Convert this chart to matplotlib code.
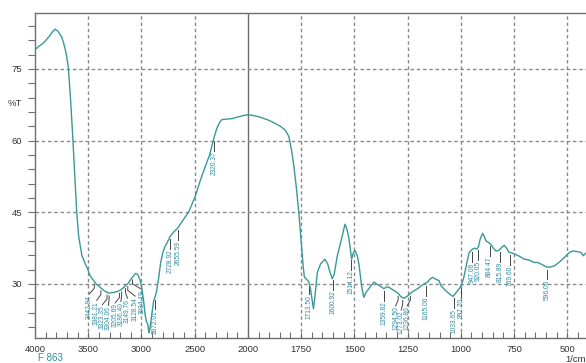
import numpy as np
import matplotlib
matplotlib.use("Agg")
import matplotlib.pyplot as plt
from matplotlib.ticker import FixedLocator, NullFormatter

plt.rcParams["font.family"] = ["Liberation Sans", "DejaVu Sans"]

# IR spectrum, wavenumber (1/cm) vs %T
wavenumber = [
    4000, 3960, 3922, 3890, 3860, 3835, 3812, 3790, 3770, 3749, 3730, 3708,
    3695, 3686, 3675, 3664, 3645, 3625, 3608, 3590, 3560, 3530, 3508, 3482,
    3442, 3420, 3388, 3350, 3310, 3270, 3230, 3200, 3160, 3122, 3090, 3070,
    3059, 3040, 3028, 3010, 2996, 2980, 2965, 2955, 2940, 2930, 2922, 2910,
    2895, 2885, 2872, 2860, 2840, 2820, 2800, 2780, 2760, 2729, 2700, 2656,
    2620, 2590, 2557, 2520, 2494, 2450, 2400, 2360, 2327, 2300, 2284, 2260,
    2243, 2200, 2150, 2102, 2050, 2008, 1980, 1950, 1910, 1880, 1847, 1825,
    1808, 1795, 1784, 1772, 1761, 1748, 1740, 1735, 1725, 1714, 1706, 1698,
    1692, 1685, 1674, 1659, 1650, 1639, 1625, 1615, 1604, 1595, 1580, 1560,
    1544, 1535, 1525, 1513, 1505, 1497, 1486, 1478, 1470, 1462, 1455, 1445,
    1432, 1420, 1408, 1395, 1384, 1370, 1361, 1350, 1337, 1320, 1298, 1280,
    1267, 1250, 1230, 1204, 1180, 1157, 1145, 1133, 1118, 1102, 1094, 1080,
    1063, 1050, 1037, 1020, 1000, 988, 976, 961, 945, 935, 925, 917,
    909, 898, 890, 882, 870, 859, 847, 835, 825, 815, 805, 796,
    785, 773, 760, 749, 725, 702, 680, 655, 640, 624, 605, 592,
    575, 561, 545, 529, 510, 490, 475, 467, 455, 445, 435, 425,
    415, 405,
]
transmittance = [
    79.0, 79.8, 80.4, 81.2, 82.0, 82.8, 83.3, 83.0, 82.4, 81.7, 80.3, 78.3,
    76.5, 75.1, 71.5, 67.9, 60.6, 52.0, 45.0, 40.0, 36.0, 34.3, 33.3, 31.7,
    30.5, 29.9, 29.3, 28.6, 28.1, 28.2, 28.4, 28.7, 29.4, 30.2, 31.3, 31.8,
    32.2, 32.1, 31.7, 30.6, 29.0, 26.5, 23.5, 22.3, 21.5, 19.8, 20.5, 22.5,
    25.0, 26.5, 27.3, 28.3, 31.0, 34.4, 36.5, 37.8, 38.6, 40.0, 40.8, 41.8,
    43.0, 44.0, 45.0, 47.0, 48.4, 51.5, 54.6, 57.0, 59.9, 62.0, 63.0, 64.0,
    64.4, 64.5, 64.6, 64.9, 65.2, 65.4, 65.3, 65.0, 64.4, 63.8, 63.0, 62.2,
    60.9, 58.0, 54.6, 50.0, 45.0, 38.0, 33.5, 31.5, 31.0, 30.5, 29.0, 26.5,
    24.8, 27.5, 32.4, 34.2, 34.6, 35.2, 34.2, 32.5, 31.1, 32.0, 35.9, 39.5,
    42.5, 41.5, 39.4, 35.2, 36.5, 37.0, 35.9, 34.0, 31.0, 28.5, 27.2, 28.3,
    29.0, 29.8, 30.4, 30.0, 29.7, 29.3, 29.0, 29.4, 29.3, 28.8, 28.2, 27.3,
    27.0, 27.5, 28.3, 29.0, 29.8, 30.4, 31.0, 31.4, 31.0, 30.7, 29.7, 29.0,
    28.3, 27.8, 27.4, 28.3, 29.5, 31.0, 33.5, 36.6, 37.3, 37.5, 37.3, 37.8,
    39.4, 40.6, 40.0, 39.0, 38.7, 38.3, 37.5, 36.9, 37.0, 37.3, 37.8, 38.1,
    37.5, 36.6, 36.5, 36.3, 35.8, 35.2, 35.0, 34.5, 34.5, 34.2, 33.7, 33.5,
    33.6, 33.8, 34.3, 34.9, 35.7, 36.6, 36.9, 36.9, 36.8, 36.7, 36.6, 35.9,
    36.4, 36.6,
]

# peak labels (wavenumber as printed)
peak_labels = [
    "3442.94", "3381.21", "3323.35", "3304.06", "3205.69", "3186.40",
    "3149.76", "3128.54", "3084.19", "2872.01", "2728.92", "2655.59",
    "2320.37", "1713.50", "1600.92", "1514.12", "1359.82", "1294.50",
    "1273.02", "1236.86", "1165.00", "1033.65", "997.20", "947.06",
    "920.05", "864.47", "815.89", "769.60", "596.00",
]
# where crowded labels are fanned out to
fan_x = {"3442.94": 3489, "3381.21": 3420, "3323.35": 3367, "3304.06": 3310,
         "3205.69": 3247, "3186.40": 3193, "3149.76": 3131, "3128.54": 3059,
         "3084.19": 2996, "1294.50": 1306, "1273.02": 1280, "1236.86": 1252}

x_major = [4000, 3500, 3000, 2500, 2000, 1750, 1500, 1250, 1000, 750, 500]
x_minor = list(range(3900, 2000, -100)) + list(range(1950, 400, -50))
y_major = [30, 45, 60, 75]
y_minor = list(range(21, 87, 3))

LINE = "#3a9898"
LABEL = "#2f8ea0"
GRID = "#8a8a8a"
FRAME = "#6e6e6e"


def fwd(x):
    x = np.asarray(x, dtype=float)
    return np.where(x > 2000, 2000 + (x - 2000) / 2.0, x)


def inv(u):
    u = np.asarray(u, dtype=float)
    return np.where(u > 2000, 2000 + (u - 2000) * 2.0, u)


fig = plt.figure(figsize=(5.86, 3.63), dpi=100)
ax = fig.add_axes([35 / 586, 25 / 363, 552.5 / 586, 325 / 363])
ax.set_xscale("function", functions=(fwd, inv))
ax.set_xlim(4000, 405)
ax.set_ylim(18.7, 86.7)

# grid
for v in x_major[1:]:
    if v == 2000:
        ax.axvline(v, color=FRAME, lw=1.0, zorder=1)
    else:
        ax.axvline(v, color=GRID, lw=1.0, ls=(0, (2.5, 2)), zorder=1)
for v in y_major:
    ax.axhline(v, color=GRID, lw=1.0, ls=(0, (2.5, 2)), zorder=1)

wn = np.array(wavenumber)
tr = np.array(transmittance)
ax.plot(wn, tr, color=LINE, lw=1.0, zorder=3)

# peak annotations
wn_asc = wn[::-1]
tr_asc = tr[::-1]
for lab in peak_labels:
    px = float(lab)
    ty = np.interp(px, wn_asc, tr_asc)
    tx = fan_x.get(lab, px)
    top = ty - 2.6
    ax.plot([px, px, tx], [ty - 0.6, ty - 1.4, top], color="#454545",
            lw=0.7, zorder=2, clip_on=True)
    t = ax.text(tx, top - 0.15, lab, rotation=90, ha="center", va="top",
                fontsize=4.8, color=LABEL, zorder=4)
    t.set_clip_on(True)

# ticks
ax.xaxis.set_major_locator(FixedLocator(x_major))
ax.xaxis.set_minor_locator(FixedLocator([v for v in x_minor if v not in x_major]))
ax.xaxis.set_minor_formatter(NullFormatter())
ax.set_xticklabels([str(v) for v in x_major])
ax.yaxis.set_major_locator(FixedLocator(y_major))
ax.yaxis.set_minor_locator(FixedLocator([v for v in y_minor if v not in y_major]))
ax.tick_params(axis="x", which="both", direction="in", length=4, width=0.8,
               color=FRAME, labelsize=6.8, labelcolor="#333333", pad=5)
ax.tick_params(axis="y", which="both", direction="out", length=5, width=0.8,
               color=FRAME, labelsize=6.8, labelcolor="#333333", pad=4)

for side in ("left", "top", "bottom"):
    ax.spines[side].set_color(FRAME)
    ax.spines[side].set_linewidth(1.0)
ax.spines["right"].set_visible(False)

fig.text(15 / 586, 1 - 103 / 363, "%T", fontsize=6.8, color="#333333",
         ha="center", va="center")
fig.text(38 / 586, 1 - 353 / 363, "F 863", fontsize=7, color=LABEL,
         ha="left", va="top")
fig.text(586 / 586, 1 - 355 / 363, "1/cm", fontsize=6.8, color="#333333",
         ha="right", va="top")

fig.savefig("out.png", dpi=100)
